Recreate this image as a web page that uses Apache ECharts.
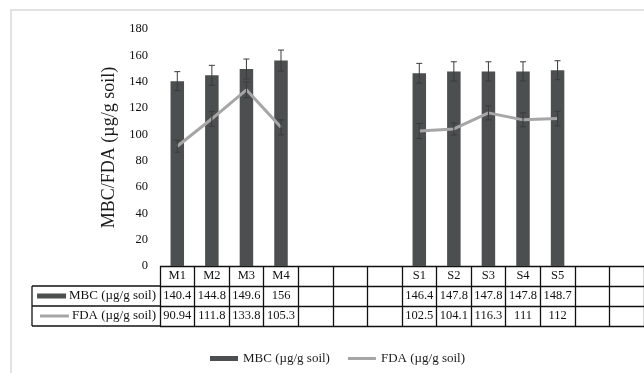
<!DOCTYPE html>
<html><head><meta charset="utf-8">
<script src="https://cdn.jsdelivr.net/npm/echarts@6/dist/echarts.min.js"></script>
<style>html,body{margin:0;padding:0;background:#fff}#c{width:644px;height:373px}</style>
</head><body><div id="c"></div>
<script>
var categories = ['M1','M2','M3','M4','','','','S1','S2','S3','S4','S5','',''];
var mbc = [140.4,144.8,149.6,156,null,null,null,146.4,147.8,147.8,147.8,148.7,null,null];
var fda = [90.94,111.8,133.8,105.3,null,null,null,102.5,104.1,116.3,111,112,null,null];
var mbcErr = [7.2,7.6,7.6,8,null,null,null,7.5,7.3,7.3,7.3,7.2,null,null];
var fdaErr = [4.5,5.7,6,5.7,null,null,null,5.7,4.5,5.3,5.3,5.5,null,null];
var mbcLabels = ['140.4','144.8','149.6','156','','','','146.4','147.8','147.8','147.8','148.7','',''];
var fdaLabels = ['90.94','111.8','133.8','105.3','','','','102.5','104.1','116.3','111','112','',''];
var yTicks = {min:0, max:180, interval:20};
var MBC = 'MBC (µg/g soil)', FDA = 'FDA (µg/g soil)';
var rows = ['hdr', MBC, FDA];

var FONT = 'Liberation Serif';
var BAR = '#4b4f4f', LINE = '#a6a6a6';

var cells = [];
categories.forEach(function(c,i){
  cells.push([i,0,c]);
  cells.push([i,1,mbcLabels[i]]);
  cells.push([i,2,fdaLabels[i]]);
});
function errData(vals, errs){
  var d=[]; vals.forEach(function(v,i){ if(v!=null) d.push([i,v,errs[i]]); }); return d;
}
function errRender(color){
  return function(params, api){
    var x=api.value(0), v=api.value(1), e=api.value(2);
    var hi=api.coord([x,v+e]), lo=api.coord([x,v-e]);
    var cap=3;
    return {type:'group', children:[
      {type:'line', shape:{x1:hi[0],y1:hi[1],x2:lo[0],y2:lo[1]}, style:{stroke:color,lineWidth:1}},
      {type:'line', shape:{x1:hi[0]-cap,y1:hi[1],x2:hi[0]+cap,y2:hi[1]}, style:{stroke:color,lineWidth:1}},
      {type:'line', shape:{x1:lo[0]-cap,y1:lo[1],x2:lo[0]+cap,y2:lo[1]}, style:{stroke:color,lineWidth:1}}
    ]};
  };
}

var chart = echarts.init(document.getElementById('c'));
chart.setOption({
  animation:false,
  textStyle:{fontFamily:FONT},
  grid:[
    {left:160, right:-2, top:29, bottom:107},
    {left:160, right:-2, top:266, height:60}
  ],
  xAxis:[
    {type:'category', gridIndex:0, data:categories, axisLine:{show:false}, axisTick:{show:false}, axisLabel:{show:false}},
    {type:'category', gridIndex:1, data:categories, axisLine:{show:false}, axisTick:{show:false}, axisLabel:{show:false},
     splitLine:{show:true, lineStyle:{color:'#111', width:1.3}}}
  ],
  yAxis:[
    {type:'value', gridIndex:0, min:yTicks.min, max:yTicks.max, interval:yTicks.interval,
     axisLine:{show:false}, axisTick:{show:false}, splitLine:{show:false},
     axisLabel:{margin:12, color:'#111', fontSize:12.5, fontFamily:FONT},
     name:'MBC/FDA (µg/g soil)', nameLocation:'middle', nameGap:42,
     nameTextStyle:{fontSize:18, color:'#1a1a1a', fontFamily:FONT}},
    {type:'category', gridIndex:1, data:rows, inverse:true,
     axisLine:{show:false}, axisTick:{show:false},
     splitLine:{show:true, lineStyle:{color:'#111', width:1.3}},
     axisLabel:{margin:4, fontSize:13, color:'#111', fontFamily:FONT,
       formatter:function(v){
         if(v===MBC) return '{bar|}{t|'+v+'}';
         if(v===FDA) return '{ln|}{t|'+v+'}';
         return '';
       },
       rich:{
         bar:{width:29, height:5, backgroundColor:BAR},
         ln:{width:29, height:3, backgroundColor:LINE},
         t:{fontSize:13, fontFamily:FONT, color:'#111', padding:[0,0,0,3]}
       }}}
  ],
  legend:{
    left:205, top:347, itemWidth:28, itemHeight:5, itemGap:18,
    textStyle:{fontSize:13, fontFamily:FONT, color:'#1a1a1a'},
    data:[
      {name:MBC, icon:'rect'},
      {name:FDA, icon:'path://M0,0 L28,0 L28,3 L0,3 Z', itemStyle:{color:LINE}}
    ]
  },
  graphic:[
    {type:'rect', shape:{x:11, y:10, width:700, height:400}, style:{fill:'none', stroke:'#d9d9d9', lineWidth:1.5}, silent:true, z:-10},
    {type:'line', shape:{x1:32,y1:286,x2:160,y2:286}, style:{stroke:'#111', lineWidth:1.3}},
    {type:'line', shape:{x1:32,y1:306,x2:160,y2:306}, style:{stroke:'#111', lineWidth:1.3}},
    {type:'line', shape:{x1:32,y1:326,x2:160,y2:326}, style:{stroke:'#111', lineWidth:1.3}},
    {type:'line', shape:{x1:32,y1:286,x2:32,y2:326}, style:{stroke:'#111', lineWidth:1.3}}
  ],
  series:[
    {name:MBC, type:'bar', xAxisIndex:0, yAxisIndex:0, data:mbc, barWidth:13.5, itemStyle:{color:BAR}, z:2},
    {name:FDA, type:'line', xAxisIndex:0, yAxisIndex:0, data:fda, symbol:'none', lineStyle:{color:LINE, width:3}, itemStyle:{color:LINE}, z:3},
    {type:'custom', xAxisIndex:0, yAxisIndex:0, data:errData(mbc,mbcErr), renderItem:errRender('#3a3c3c'), z:4},
    {type:'custom', xAxisIndex:0, yAxisIndex:0, data:errData(fda,fdaErr), renderItem:errRender('#3a3c3c'), z:4},
    {type:'custom', xAxisIndex:1, yAxisIndex:1, data:cells, z:5, clip:false,
     renderItem:function(params, api){
       var p=api.coord([api.value(0), api.value(1)]);
       return {type:'text', x:p[0], y:p[1], style:{text:cells[params.dataIndex][2], align:'center', verticalAlign:'middle',
         fontSize:12.5, fontFamily:FONT, fill:'#111'}};
     }}
  ]
});
</script></body></html>
